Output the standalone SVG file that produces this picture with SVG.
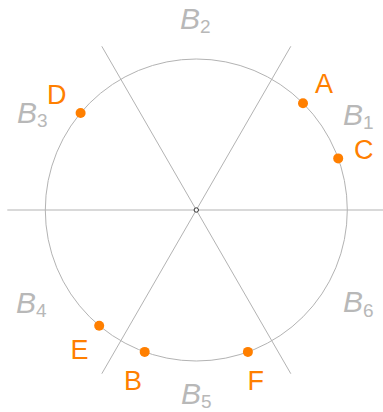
<svg xmlns="http://www.w3.org/2000/svg" width="383" height="412" viewBox="0 0 383 412">
<style>
.ln{stroke:#b3b3b3;stroke-width:1;fill:none}
.pt{fill:#ff7f00}
.lbl{font-family:"Liberation Sans",Arial,sans-serif;font-size:27px;fill:#ff7f00}
.reg{font-family:"Liberation Sans",Arial,sans-serif;font-size:30px;font-style:italic;fill:#b8b8b8}
.sub{font-size:19px;font-style:normal}
</style>
<rect width="383" height="412" fill="#ffffff"/>
<g id="connectors">
<circle class="ln" cx="196.3" cy="210" r="151"/>
<line class="ln" x1="7.3" y1="210" x2="385.3" y2="210"/>
<line class="ln" x1="101.8" y1="46.3" x2="290.8" y2="373.7"/>
<line class="ln" x1="290.8" y1="46.3" x2="101.8" y2="373.7"/>
</g>
<g id="center"><circle cx="196.3" cy="210" r="2.2" fill="#ffffff" stroke="#333333" stroke-width="1"/></g>
<g id="regions">
<text class="reg" x="343" y="125">B<tspan class="sub" dy="4">1</tspan></text>
<text class="reg" x="180" y="29">B<tspan class="sub" dy="4">2</tspan></text>
<text class="reg" x="17" y="123">B<tspan class="sub" dy="4">3</tspan></text>
<text class="reg" x="16" y="313">B<tspan class="sub" dy="4">4</tspan></text>
<text class="reg" x="181" y="404">B<tspan class="sub" dy="4">5</tspan></text>
<text class="reg" x="343" y="311.5">B<tspan class="sub" dy="5">6</tspan></text>
</g>
<g id="A"><circle class="pt" cx="303" cy="103.2" r="5"/><text class="lbl" x="315" y="92.5">A</text></g>
<g id="C"><circle class="pt" cx="338.2" cy="158.4" r="5"/><text class="lbl" x="354" y="159.3">C</text></g>
<g id="D"><circle class="pt" cx="80.6" cy="113" r="5"/><text class="lbl" x="47" y="104">D</text></g>
<g id="E"><circle class="pt" cx="99.2" cy="325.7" r="5"/><text class="lbl" x="70.5" y="359">E</text></g>
<g id="B"><circle class="pt" cx="144.7" cy="351.9" r="5"/><text class="lbl" x="124" y="389.5">B</text></g>
<g id="F"><circle class="pt" cx="247.9" cy="351.9" r="5"/><text class="lbl" x="247.5" y="390">F</text></g>
</svg>
